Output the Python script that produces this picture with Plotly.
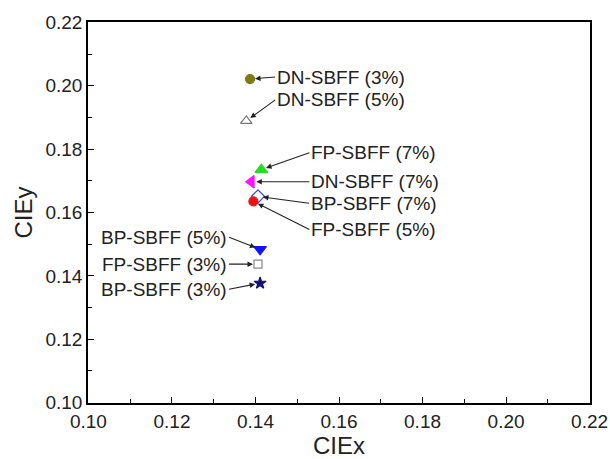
import plotly.graph_objects as go

labels = ["DN-SBFF (3%)", "DN-SBFF (5%)", "FP-SBFF (7%)", "DN-SBFF (7%)", "BP-SBFF (7%)",
          "FP-SBFF (5%)", "BP-SBFF (5%)", "FP-SBFF (3%)", "BP-SBFF (3%)"]
cie_x = [0.1387, 0.1378, 0.1414, 0.1390, 0.1406, 0.1395, 0.1411, 0.1406, 0.1411]
cie_y = [0.2021, 0.1889, 0.1735, 0.1697, 0.1651, 0.1635, 0.1484, 0.1437, 0.1377]

tick_vals = [0.10, 0.12, 0.14, 0.16, 0.18, 0.20, 0.22]
tick_text = ["0.10", "0.12", "0.14", "0.16", "0.18", "0.20", "0.22"]
minor_vals = [0.11, 0.13, 0.15, 0.17, 0.19, 0.21]

symbols = ["circle", "triangle-up-open", "triangle-up", "triangle-left", "diamond-open",
           "circle", "triangle-down", "square-open", "star"]
colors = ["#7d7a14", "#777777", "#22dd22", "#ff11ff", "#3344ee",
          "#ee1111", "#1111ff", "#888888", "#111177"]
sizes = [9, 10, 11, 11, 10, 9, 11, 8, 9]
# label offsets in pixels (text anchor relative to marker)
ax_off = [25, 29, 48, 58, 51, 56, -31, -29, -31]
ay_off = [-2, -21, -17, 0, 7, 28, -12, 0, 6]

fig = go.Figure()
for i in range(len(labels)):
    fig.add_trace(go.Scatter(
        x=[cie_x[i]], y=[cie_y[i]], mode="markers", name=labels[i],
        marker=dict(symbol=symbols[i], color=colors[i], size=sizes[i],
                    line=dict(width=1.2, color=colors[i])),
        showlegend=False))
    fig.add_annotation(
        x=cie_x[i], y=cie_y[i], text=labels[i], showarrow=True,
        ax=ax_off[i], ay=ay_off[i],
        xanchor="left" if ax_off[i] > 0 else "right", yanchor="middle",
        arrowhead=2, arrowsize=1, arrowwidth=1.1, arrowcolor="#222222",
        standoff=5, font=dict(size=19, color="#222222"))

axis_common = dict(
    showline=True, linecolor="black", linewidth=1.5, mirror=True,
    ticks="inside", ticklen=6, tickwidth=1.3, tickcolor="black",
    showgrid=False, zeroline=False, automargin=False,
    tickmode="array", tickvals=tick_vals, ticktext=tick_text,
    tickfont=dict(size=19, color="#222222"), ticklabeloverflow="allow",
    minor=dict(ticks="inside", ticklen=4, tickwidth=1.1, tickcolor="black",
               tickmode="array", tickvals=minor_vals),
)
fig.update_xaxes(range=[0.0999, 0.2201],
                 title=dict(text="CIEx", font=dict(size=24, color="#222222"), standoff=3),
                 **axis_common)
fig.update_yaxes(range=[0.0999, 0.2201],
                 title=dict(text="CIEy", font=dict(size=24, color="#222222"), standoff=6),
                 **axis_common)

fig.update_layout(
    width=610, height=459,
    margin=dict(l=88, r=20, t=22, b=56),
    paper_bgcolor="white", plot_bgcolor="white",
    font=dict(family="Liberation Sans, Arial, sans-serif", color="#222222"),
)
# remove the default 8px page margin so the figure fills the window exactly
fig.write_html("out.html", config={"displayModeBar": False},
               post_script="document.body.style.margin='0';document.body.style.overflow='hidden';")
